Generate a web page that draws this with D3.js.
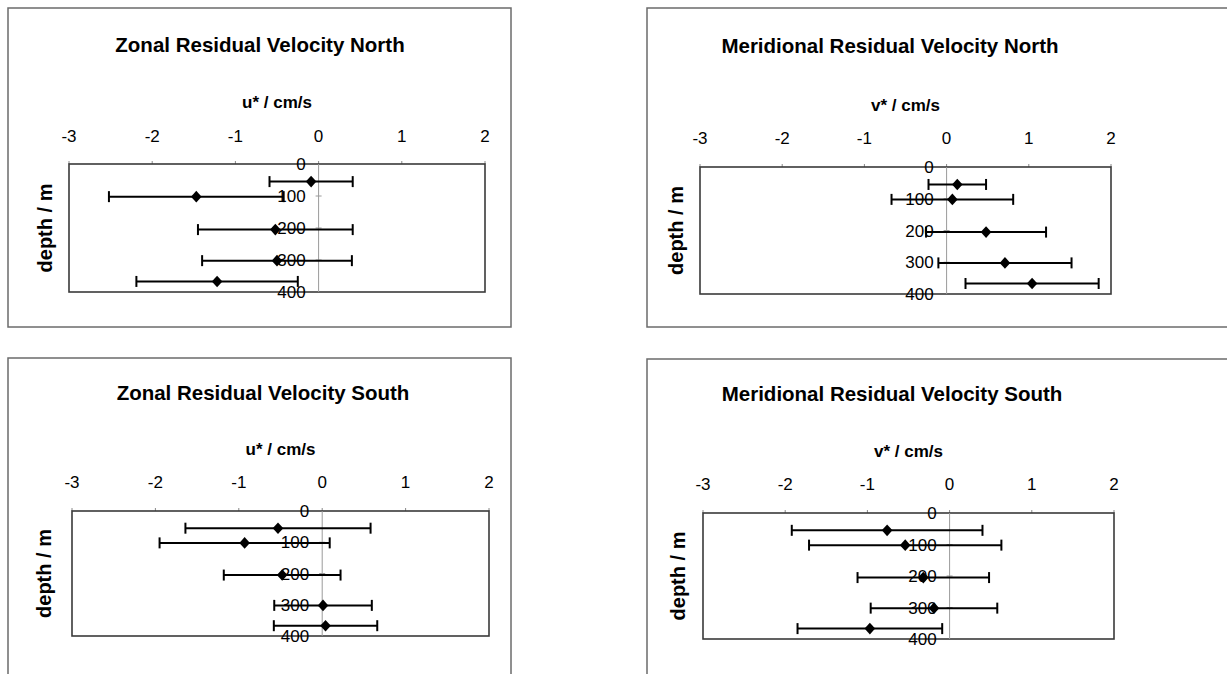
<!DOCTYPE html>
<html><head><meta charset="utf-8">
<script src="https://cdn.jsdelivr.net/npm/d3@7"></script>
<style>body{margin:0;background:#fff}svg{display:block}text{font-family:"Liberation Sans",Arial,sans-serif;fill:#000}</style>
</head><body><svg id="c" width="1227" height="674"></svg>
<script>
// ---- data ----
const titles = ["Zonal Residual Velocity North","Meridional Residual Velocity North","Zonal Residual Velocity South","Meridional Residual Velocity South"];
const axisTitles = ["u* / cm/s","v* / cm/s","u* / cm/s","v* / cm/s"];
const depthTitle = "depth / m";
const xTicks = [-3,-2,-1,0,1,2];
const depthTicks = [0,100,200,300,400];
const depths = [55,102,205,302,367];
const zonalNorth = [-0.09,-1.47,-0.52,-0.50,-1.22];
const zonalNorthErr = [0.50,1.05,0.93,0.90,0.97];
const meridNorth = [0.13,0.07,0.48,0.71,1.04];
const meridNorthErr = [0.35,0.74,0.73,0.81,0.81];
const zonalSouth = [-0.53,-0.93,-0.48,0.01,0.04];
const zonalSouthErr = [1.11,1.02,0.70,0.585,0.62];
const meridSouth = [-0.76,-0.54,-0.32,-0.19,-0.97];
const meridSouthErr = [1.16,1.17,0.80,0.77,0.88];

const seriesVals = [zonalNorth, meridNorth, zonalSouth, meridSouth];
const seriesErrs = [zonalNorthErr, meridNorthErr, zonalSouthErr, meridSouthErr];

// ---- layout ----
const layout = [
  {frame:[8,8,511,327], plot:[69,164,485,292], titleX:260, titleY:52, axTitleY:108, tickY:141.5, depthX:45},
  {frame:[647,8,1260,327], plot:[700,167,1111,294], titleX:890, titleY:53, axTitleY:111, tickY:144, depthX:676},
  {frame:[8,358,511,700], plot:[72,511,489,636], titleX:263, titleY:400, axTitleY:455, tickY:488, depthX:44},
  {frame:[647,359,1260,700], plot:[703,513,1114,639], titleX:892, titleY:401, axTitleY:457, tickY:490, depthX:678}
];

const svg = d3.select("#c");

layout.forEach((L, i) => {
  const g = svg.append("g");
  const [fx0, fy0, fx1, fy1] = L.frame;
  g.append("rect").attr("x", fx0).attr("y", fy0).attr("width", fx1 - fx0).attr("height", fy1 - fy0)
    .attr("fill", "none").attr("stroke", "#6b6b6b").attr("stroke-width", 1.5);

  const [px0, py0, px1, py1] = L.plot;
  const x = d3.scaleLinear().domain([-3, 2]).range([px0, px1]);
  const y = d3.scaleLinear().domain([0, 400]).range([py0, py1]);

  // title
  g.append("text").attr("x", L.titleX).attr("y", L.titleY).attr("text-anchor", "middle")
    .attr("font-size", 20.5).attr("font-weight", "bold").text(titles[i]);
  // axis title
  g.append("text").attr("x", (px0 + px1) / 2).attr("y", L.axTitleY).attr("text-anchor", "middle")
    .attr("font-size", 17).attr("font-weight", "bold").text(axisTitles[i]);
  // depth title
  g.append("text").attr("transform", `translate(${L.depthX},${(py0 + py1) / 2}) rotate(-90)`)
    .attr("text-anchor", "middle").attr("dominant-baseline", "central")
    .attr("font-size", 20).attr("font-weight", "bold").text(depthTitle);

  // x tick labels
  g.selectAll(".xt").data(xTicks).join("text").attr("class", "xt")
    .attr("x", d => x(d)).attr("y", L.tickY).attr("text-anchor", "middle")
    .attr("font-size", 17).text(d => d);
  // small top ticks
  g.selectAll(".xtm").data(xTicks).join("line").attr("class", "xtm")
    .attr("x1", d => x(d)).attr("x2", d => x(d)).attr("y1", py0 - 3).attr("y2", py0)
    .attr("stroke", "#888").attr("stroke-width", 1);

  // plot box
  g.append("rect").attr("x", px0).attr("y", py0).attr("width", px1 - px0).attr("height", py1 - py0)
    .attr("fill", "none").attr("stroke", "#3a3a3a").attr("stroke-width", 1.6);

  // zero (depth axis) line
  g.append("line").attr("x1", x(0)).attr("x2", x(0)).attr("y1", y(0)).attr("y2", y(400))
    .attr("stroke", "#9a9a9a").attr("stroke-width", 1);
  g.selectAll(".ytm").data(depthTicks.slice(1, -1)).join("line").attr("class", "ytm")
    .attr("x1", x(0) - 3).attr("x2", x(0) + 3).attr("y1", d => y(d)).attr("y2", d => y(d))
    .attr("stroke", "#9a9a9a").attr("stroke-width", 1);

  // depth tick labels
  g.selectAll(".yt").data(depthTicks).join("text").attr("class", "yt")
    .attr("x", x(0) - 13).attr("y", d => y(d)).attr("dy", "0.36em").attr("text-anchor", "end")
    .attr("font-size", 17).text(d => d);

  // error bars
  const vals = seriesVals[i], errs = seriesErrs[i];
  const pts = depths.map((d, k) => ({d, v: vals[k], e: errs[k]}));
  const eb = g.selectAll(".eb").data(pts).join("g").attr("class", "eb");
  eb.append("line").attr("x1", p => x(p.v - p.e)).attr("x2", p => x(p.v + p.e))
    .attr("y1", p => y(p.d)).attr("y2", p => y(p.d)).attr("stroke", "#000").attr("stroke-width", 2);
  eb.append("line").attr("x1", p => x(p.v - p.e)).attr("x2", p => x(p.v - p.e))
    .attr("y1", p => y(p.d) - 5.5).attr("y2", p => y(p.d) + 5.5).attr("stroke", "#000").attr("stroke-width", 2);
  eb.append("line").attr("x1", p => x(p.v + p.e)).attr("x2", p => x(p.v + p.e))
    .attr("y1", p => y(p.d) - 5.5).attr("y2", p => y(p.d) + 5.5).attr("stroke", "#000").attr("stroke-width", 2);
  // diamonds
  g.selectAll(".pt").data(pts).join("path").attr("class", "pt")
    .attr("transform", p => `translate(${x(p.v)},${y(p.d)})`)
    .attr("d", "M0,-5.8L5.3,0L0,5.8L-5.3,0Z").attr("fill", "#000");
});
</script></body></html>
